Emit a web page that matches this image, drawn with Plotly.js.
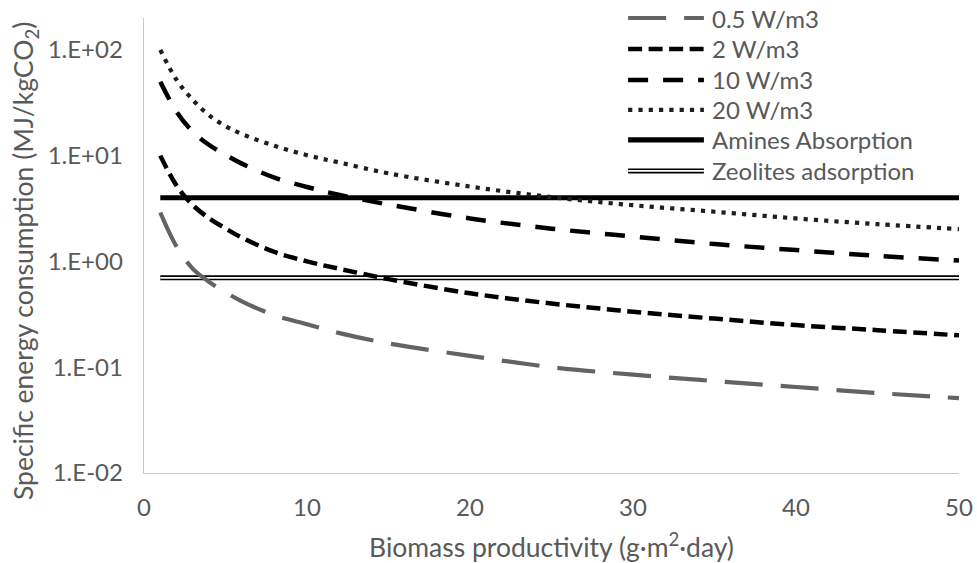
<!DOCTYPE html>
<html>
<head>
<meta charset="utf-8">
<script src="https://cdn.plot.ly/plotly-3.0.1.min.js"></script>
<style>html,body{margin:0;padding:0;background:#fff;}#chart{width:977px;height:563px;}</style>
</head>
<body>
<div id="chart"></div>
<script>
// Biomass productivity (g·m-2·day)
var productivity = [1, 2, 3, 4, 5, 6, 8, 10, 12, 15, 20, 25, 30, 35, 40, 45, 50];
// Specific energy consumption (MJ/kgCO2) for each power input
var w05 = [2.9, 1.38, 0.85, 0.64, 0.51, 0.42, 0.31, 0.255, 0.21, 0.168, 0.128, 0.1, 0.085, 0.074, 0.065, 0.057, 0.051];
var w2  = [10, 5.2, 3.4, 2.55, 2.05, 1.68, 1.23, 1.0, 0.85, 0.68, 0.5, 0.4, 0.335, 0.288, 0.25, 0.224, 0.2];
var w10 = [50, 26, 16.8, 12.6, 10.2, 8.4, 6.2, 5.05, 4.25, 3.45, 2.55, 2.04, 1.72, 1.46, 1.28, 1.13, 1.02];
var w20 = [100, 52, 33.5, 24, 19, 16, 12.4, 10.1, 8.6, 6.8, 5.1, 4.05, 3.4, 2.95, 2.55, 2.25, 2.02];
// Reference technologies (constant)
var refX = [1, 50];
var amines = [4.0, 4.0];
var zeolites = [0.7, 0.7];
// Axis ticks
var yTickVals = [0.01, 0.1, 1, 10, 100];
var yTickText = ["1.E-02", "1.E-01", "1.E+00", "1.E+01", "1.E+02"];
var seriesNames = ["0.5 W/m3", "2 W/m3", "10 W/m3", "20 W/m3", "Amines Absorption", "Zeolites adsorption"];
var xTitle = "Biomass productivity (g·m<sup>2</sup>·day)";
var yTitle = "Specific energy consumption (MJ/kgCO<sub>2</sub>)";

var FONT = "Lato, 'Open Sans', sans-serif";
var TXT = "#595959";

var styles = [
  {color: "#636363", width: 4.2, dash: "38px,18px"},
  {color: "#000000", width: 4.5, dash: "14px,6.5px"},
  {color: "#000000", width: 4.5, dash: "20px,15px"},
  {color: "#1e1e1e", width: 4.2, dash: "4.2px,6.1px"},
  {color: "#000000", width: 5.2, dash: "solid"},
  {color: "#000000", width: 5.0, dash: "solid"}
];

function curve(y, i) {
  return {x: productivity, y: y, type: "scatter", mode: "lines", name: seriesNames[i],
          showlegend: false, hoverinfo: "x+y+name",
          line: {color: styles[i].color, width: styles[i].width, dash: styles[i].dash, shape: "spline"}};
}
var traces = [
  {x: refX, y: amines, type: "scatter", mode: "lines", name: seriesNames[4], showlegend: false,
   line: {color: styles[4].color, width: styles[4].width}},
  {x: refX, y: zeolites, type: "scatter", mode: "lines", name: seriesNames[5], showlegend: false,
   line: {color: styles[5].color, width: styles[5].width}},
  {x: refX, y: zeolites, type: "scatter", mode: "lines", name: seriesNames[5], showlegend: false,
   hoverinfo: "skip", line: {color: "#ffffff", width: 1.8}},
  curve(w05, 0), curve(w2, 1), curve(w10, 2), curve(w20, 3)
];

// Custom legend (Excel-style long symbols)
var legX0 = 0.594, legX1 = 0.687, legTextX = 0.695;
var legY = [1.0, 0.932, 0.864, 0.798, 0.732, 0.664];
var shapes = [], annotations = [];
for (var i = 0; i < seriesNames.length; i++) {
  shapes.push({type: "line", xref: "paper", yref: "paper", x0: legX0, x1: legX1, y0: legY[i], y1: legY[i],
               line: {color: styles[i].color, width: styles[i].width, dash: styles[i].dash}});
  annotations.push({xref: "paper", yref: "paper", x: legTextX, y: legY[i], xanchor: "left", yanchor: "middle",
                    showarrow: false, text: seriesNames[i], font: {family: FONT, size: 24, color: TXT}});
}
shapes.push({type: "line", xref: "paper", yref: "paper", x0: legX0, x1: legX1, y0: legY[5], y1: legY[5],
             line: {color: "#ffffff", width: 1.8}});

// Y axis title placed as in the reference (slightly below plot centre)
annotations.push({xref: "paper", yref: "paper", x: -0.146, y: 0.466, xanchor: "center", yanchor: "middle",
                  textangle: -90, showarrow: false, text: yTitle, font: {family: FONT, size: 26.5, color: TXT}});

var layout = {
  width: 977, height: 563,
  margin: {l: 144, r: 18, t: 18, b: 90},
  paper_bgcolor: "#ffffff", plot_bgcolor: "#ffffff",
  font: {family: FONT, size: 24, color: TXT},
  showlegend: false,
  xaxis: {
    range: [0, 50], dtick: 10, tick0: 0, showgrid: false, zeroline: false,
    showline: true, linecolor: "#c8c8c8", linewidth: 1.3, ticks: "",
    ticklabelstandoff: 13, automargin: false,
    tickfont: {family: FONT, size: 24, color: TXT},
    title: {text: xTitle, font: {family: FONT, size: 26.5, color: TXT}, standoff: 18}
  },
  yaxis: {
    type: "log", range: [-2, Math.log10(200)], tickvals: yTickVals, ticktext: yTickText,
    showgrid: false, zeroline: false, showline: true, linecolor: "#c8c8c8", linewidth: 1.3, ticks: "",
    ticklabelstandoff: 15, automargin: false,
    tickfont: {family: FONT, size: 24, color: TXT}
  },
  shapes: shapes,
  annotations: annotations
};

Plotly.newPlot("chart", traces, layout, {displayModeBar: false, staticPlot: true});
</script>
</body>
</html>
